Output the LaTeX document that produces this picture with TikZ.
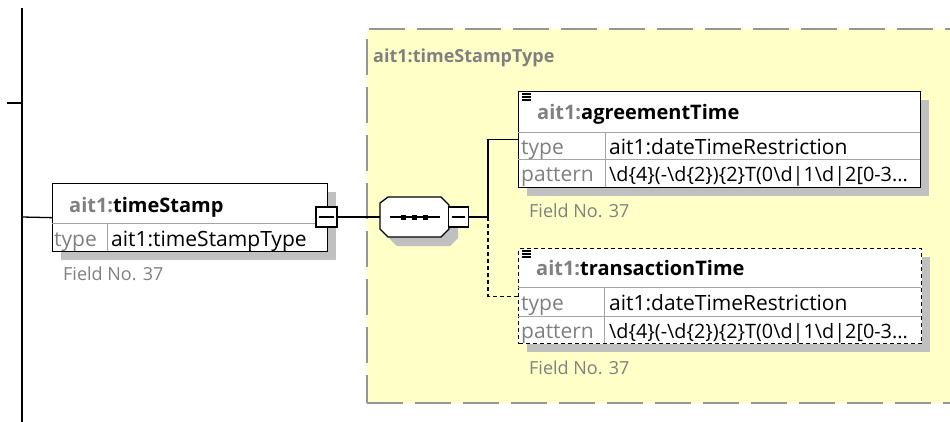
\documentclass[tikz,border=0pt]{standalone}
\usepackage{fontspec}
\setmainfont{Open Sans}
\usetikzlibrary{positioning, calc}
\usetikzlibrary{shadows}

\definecolor{typeyellow}{RGB}{255,255,200}
\definecolor{boxgray}{RGB}{165,165,165}
\definecolor{shadowgray}{RGB}{192,192,192}
\definecolor{nsgray}{RGB}{128,128,128}
\definecolor{dashgray}{RGB}{150,150,150}

\tikzset{
  elem/.style={draw=black, line width=1.3bp, fill=white, inner sep=0pt, anchor=north west,
    drop shadow={shadow xshift=8bp, shadow yshift=-8bp, fill=shadowgray, opacity=1}},
  optelem/.style={elem, dash pattern=on 4bp off 3bp},
  typebox/.style={draw=dashgray, fill=typeyellow, line width=2bp, dash pattern=on 36bp off 12bp,
    inner sep=0pt, anchor=north west},
  divline/.style={draw=boxgray, line width=1bp},
  minusbox/.style={draw=black, line width=1.3bp, fill=white, minimum width=21bp, minimum height=20bp, inner sep=0pt},
  seqbase/.style={minimum width=69bp, minimum height=40bp, inner sep=0pt},
  conn/.style={line width=1.3bp},
  optconn/.style={conn, dash pattern=on 4bp off 3bp},
  lbl/.style={anchor=base west, inner sep=0pt, font=\fontsize{21bp}{24bp}\selectfont},
  greylbl/.style={lbl, text=nsgray},
  patlbl/.style={lbl, font=\fontsize{19.8bp}{24bp}\selectfont},
  namelbl/.style={anchor=base west, inner sep=0pt, font=\bfseries\fontsize{20bp}{24bp}\selectfont},
  fieldlbl/.style={anchor=base west, inner sep=0pt, text=nsgray, font=\fontsize{18bp}{21bp}\selectfont},
}

\begin{document}
\begin{tikzpicture}[x=1bp, y=-1bp]
    \path[use as bounding box, clip] (0,0) rectangle (950,421);

    % left bar
    \draw[conn] (22,8) -- (22,425);
    \draw[conn] (7,103) -- (22,103);
    \coordinate (bar) at (22,217);

    % complex type area
    \node[typebox, minimum width=600bp, minimum height=374bp] (tsType) at (366,28) {};
    \node[namelbl, text=nsgray, font=\bfseries\fontsize{18bp}{21bp}\selectfont] (tsTypeName) at (373,62) {ait1:timeStampType};

    % timeStamp element
    \node[elem, minimum width=275bp, minimum height=68bp] (timeStamp) at (52,183) {};
    \draw[divline] (52,223) -- (327,223);
    \draw[divline] (107,223) -- (107,251);
    \node[namelbl] (tsName) at (69,212) {\textcolor{nsgray}{ait1:}timeStamp};
    \node[greylbl] (tsTypeKey) at (54,246) {type};
    \node[lbl] (tsTypeVal) at (111,246) {ait1:timeStampType};
    \node[fieldlbl] (tsField) at (63,280) {Field No. 37};
    \node[minusbox] (tsMinus) at (326.5,217) {};
    \draw[conn] ([xshift=4bp]tsMinus.west) -- ([xshift=-4bp]tsMinus.east);

    % sequence
    \node[seqbase] (seq) at (414.5,217) {};
    \fill[shadowgray, shift={(9,9)}] (380,203) -- (388,197) -- (441,197) -- (449,205)
        -- (449,229) -- (441,237) -- (388,237) -- (380,229) -- cycle;
    \draw[conn, fill=white] (380,203) -- (388,197) -- (441,197) -- (449,205)
        -- (449,229) -- (441,237) -- (388,237) -- (380,229) -- cycle;
    \draw[conn] ([xshift=-25bp]seq.center) -- ([xshift=25bp]seq.center);
    \foreach \sx in {-11,0,11}
        \fill ([xshift=\sx bp]seq.center) ++(-2.5,-2.5) rectangle ++(5,5);
    \node[minusbox, minimum width=20bp] (seqMinus) at (458.5,217) {};
    \draw[conn] ([xshift=4bp]seqMinus.west) -- ([xshift=-4bp]seqMinus.east);
    \coordinate (fork) at (488,217);

    % agreementTime element
    \node[elem, minimum width=402bp, minimum height=96bp] (agree) at (518,91) {};
    \draw[divline] (518,132) -- (920,132);
    \draw[divline] (518,159) -- (920,159);
    \draw[divline] (605,132) -- (605,187);
    \foreach \iy in {0,3,6}
        \draw[line width=1.2bp] (522,94+\iy) -- (531,94+\iy);
    \node[namelbl] (agreeName) at (537,119) {\textcolor{nsgray}{ait1:}agreementTime};
    \node[greylbl] (agreeTypeKey) at (521,154) {type};
    \node[lbl] (agreeTypeVal) at (609,154) {ait1:dateTimeRestriction};
    \node[greylbl] (agreePatKey) at (521,181) {pattern};
    \node[patlbl] (agreePatVal) at (609,181) {\textbackslash d\{4\}(-\textbackslash d\{2\})\{2\}T(0\textbackslash d|1\textbackslash d|2[0-3...};
    \node[fieldlbl] (agreeField) at (529,217) {Field No. 37};

    % transactionTime element
    \node[optelem, minimum width=403bp, minimum height=95bp] (trans) at (518,248) {};
    \draw[divline] (518,287) -- (921,287);
    \draw[divline] (518,316) -- (921,316);
    \draw[divline] (604,287) -- (604,343);
    \foreach \iy in {0,3,6}
        \draw[line width=1.2bp] (522,251+\iy) -- (531,251+\iy);
    \node[namelbl] (transName) at (536,275) {\textcolor{nsgray}{ait1:}transactionTime};
    \node[greylbl] (transTypeKey) at (521,310) {type};
    \node[lbl] (transTypeVal) at (609,310) {ait1:dateTimeRestriction};
    \node[greylbl] (transPatKey) at (521,338) {pattern};
    \node[patlbl] (transPatVal) at (609,338) {\textbackslash d\{4\}(-\textbackslash d\{2\})\{2\}T(0\textbackslash d|1\textbackslash d|2[0-3...};
    \node[fieldlbl] (transField) at (529,374) {Field No. 37};

    % connectors
    \draw[conn] (bar) -- (timeStamp.west);
    \draw[conn] (tsMinus.east) -- (seq.west);
    \draw[conn] (seq.east) -- (seqMinus.west);
    \draw[conn] (seqMinus.east) -- (fork) |- (agree.west);
    \draw[optconn] (fork) |- (trans.west);
\end{tikzpicture}
\end{document}
